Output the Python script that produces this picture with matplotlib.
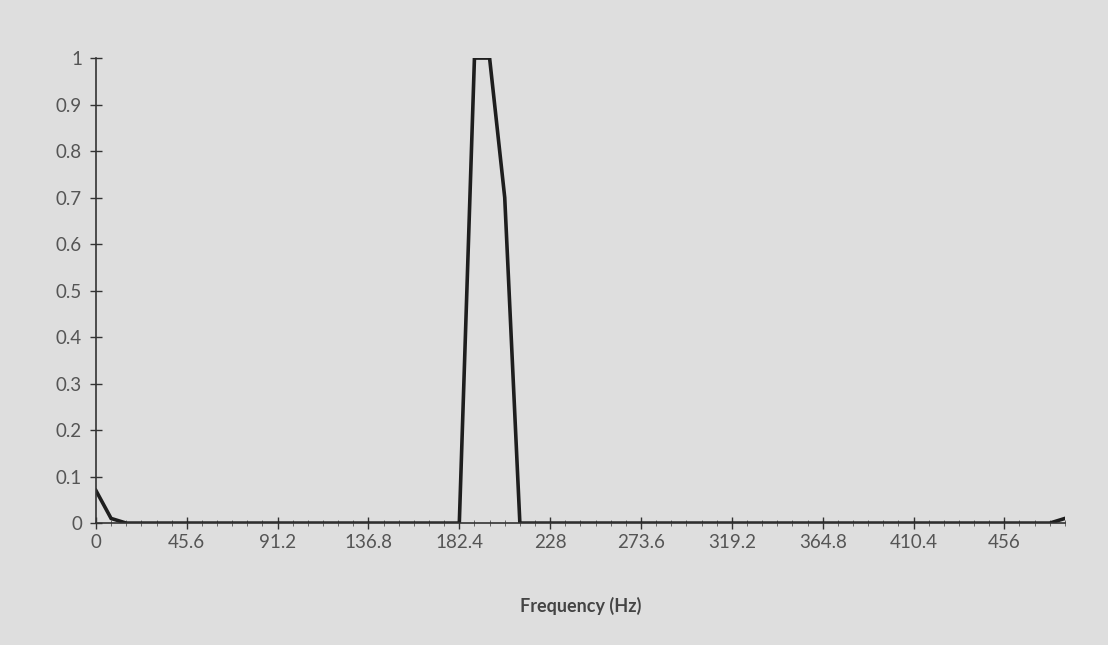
import numpy as np
import matplotlib
matplotlib.use("Agg")
import matplotlib.pyplot as plt

# Data: spectrum magnitude sampled in 7.6 Hz bins
bin_width = 7.6
magnitude = [0.07, 0.01, 0.0, 0.0, 0.0, 0.0, 0.0, 0.0, 0.0, 0.0,
             0.0, 0.0, 0.0, 0.0, 0.0, 0.0, 0.0, 0.0, 0.0, 0.0,
             0.0, 0.0, 0.0, 0.0, 0.0, 1.0, 1.0, 0.7, 0.0, 0.0,
             0.0, 0.0, 0.0, 0.0, 0.0, 0.0, 0.0, 0.0, 0.0, 0.0,
             0.0, 0.0, 0.0, 0.0, 0.0, 0.0, 0.0, 0.0, 0.0, 0.0,
             0.0, 0.0, 0.0, 0.0, 0.0, 0.0, 0.0, 0.0, 0.0, 0.0,
             0.0, 0.0, 0.0, 0.0, 0.01]
frequency = np.arange(len(magnitude)) * bin_width
x_tick_values = [0, 45.6, 91.2, 136.8, 182.4, 228, 273.6, 319.2, 364.8, 410.4, 456]
x_tick_labels = ["0", "45.6", "91.2", "136.8", "182.4", "228", "273.6", "319.2", "364.8", "410.4", "456"]
y_tick_values = [0, 0.1, 0.2, 0.3, 0.4, 0.5, 0.6, 0.7, 0.8, 0.9, 1]
y_tick_labels = ["0", "0.1", "0.2", "0.3", "0.4", "0.5", "0.6", "0.7", "0.8", "0.9", "1"]

plt.rcParams['font.family'] = ['Lato', 'DejaVu Sans']

bg = "#dedede"
fig = plt.figure(figsize=(11.08, 6.45), dpi=100, facecolor=bg)
ax = fig.add_axes([0.0866, 0.189, 0.8745, 0.721])
ax.set_facecolor(bg)

ax.plot(frequency, magnitude, color="#1e1e1e", linewidth=2.6, solid_joinstyle="miter")

ax.set_xlim(0, frequency[-1])
ax.set_ylim(0, 1.0)
ax.set_xticks(x_tick_values)
ax.set_xticklabels(x_tick_labels)
ax.set_xticks(frequency, minor=True)
ax.set_yticks(y_tick_values)
ax.set_yticklabels(y_tick_labels)

for s in ["top", "right"]:
    ax.spines[s].set_visible(False)
for s in ["left", "bottom"]:
    ax.spines[s].set_color("#333333")
    ax.spines[s].set_linewidth(1.2)

ax.tick_params(axis="both", which="major", direction="inout", length=8, width=1.0,
               color="#333333", labelcolor="#555555", labelsize=13.5)
ax.tick_params(axis="x", which="major", pad=4)
ax.tick_params(axis="y", which="major", pad=6)
ax.tick_params(axis="x", which="minor", direction="inout", length=5, width=0.7, color="#666666")
ax.set_xlabel("Frequency (Hz)", fontsize=13, fontweight="bold", color="#444444", labelpad=33)

fig.savefig("out.png", dpi=100, facecolor=bg)
